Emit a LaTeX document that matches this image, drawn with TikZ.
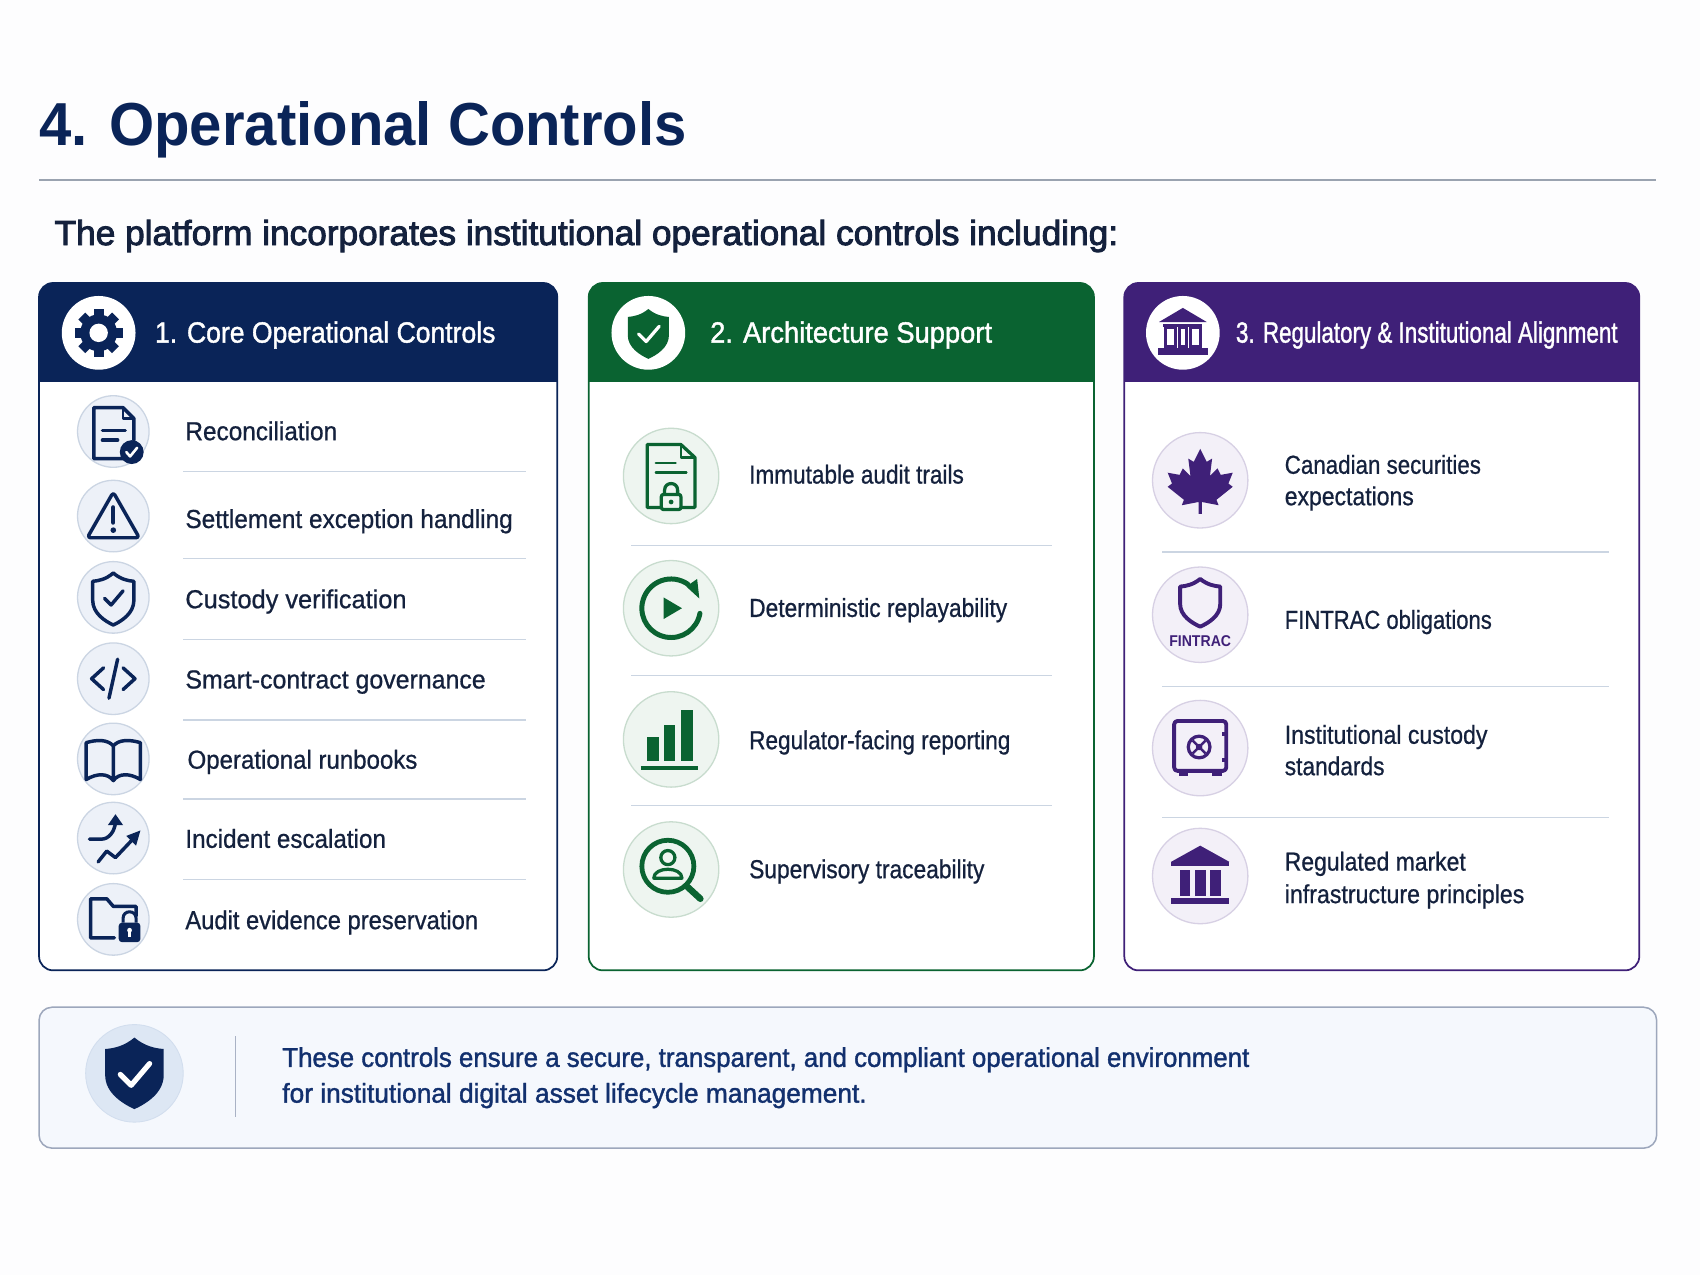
\documentclass[tikz,border=0pt]{standalone}
\usepackage{fontspec}
\usepackage{graphicx}
\setmainfont{Liberation Sans}
\newfontfamily\med[FakeBold=0.8]{Liberation Sans}
\newfontfamily\medb[FakeBold=1.4]{Liberation Sans}
\newfontfamily\semi[FakeBold=2.6]{Liberation Sans}
\usetikzlibrary{arrows.meta}
\definecolor{navy}{HTML}{0A2458}
\definecolor{grn}{HTML}{0A6331}
\definecolor{pur}{HTML}{3F2078}
\definecolor{ink}{HTML}{14213D}
\definecolor{foot}{HTML}{12306E}
\definecolor{sep}{HTML}{CBD5E2}
\definecolor{pagebg}{HTML}{FDFDFE}
\definecolor{footbg}{HTML}{F5F8FD}
\definecolor{rulec}{HTML}{9AA3B0}
\newcommand{\TW}[2]{\resizebox{\dimexpr#1pt/2\relax}{\height}{#2}}
\def\shieldshape{(0,-1) .. controls (-0.35,-0.76) and (-0.7,-0.7) .. (-1,-0.68) -- (-1,0.05) .. controls (-1,0.55) and (-0.4,0.85) .. (0,1) .. controls (0.4,0.85) and (1,0.55) .. (1,0.05) -- (1,-0.68) .. controls (0.7,-0.7) and (0.35,-0.76) .. (0,-1) -- cycle}
\tikzset{
  x=0.5pt,y=-0.5pt,
  itm/.style={anchor=base west,inner sep=0pt,outer sep=0pt,text=ink,font=\med\fontsize{12}{14}\selectfont},
  hdr/.style={anchor=base west,inner sep=0pt,outer sep=0pt,text=white,font=\medb\fontsize{13.5}{16}\selectfont},
  sepl/.style={draw=sep,line width=0.7pt},
  hc/.style={circle,fill=white,minimum size=34pt,inner sep=0pt,outer sep=0pt},
  ica/.style={circle,fill={rgb,255:red,237;green,241;blue,248},draw={rgb,255:red,203;green,213;blue,227},line width=0.6pt,minimum size=33pt,inner sep=0pt},
  icb/.style={circle,fill={rgb,255:red,238;green,245;blue,240},draw={rgb,255:red,200;green,220;blue,206},line width=0.6pt,minimum size=44pt,inner sep=0pt},
  icc/.style={circle,fill={rgb,255:red,243;green,240;blue,248},draw={rgb,255:red,215;green,208;blue,228},line width=0.6pt,minimum size=44pt,inner sep=0pt},
  la/.style={draw=navy,line width=1.6pt,line join=round,line cap=round},
  lb/.style={draw=grn,line width=1.8pt,line join=round,line cap=round},
  lc/.style={draw=pur,line width=1.8pt,line join=round,line cap=round},
}
\begin{document}
\begin{tikzpicture}
\path[use as bounding box,fill=pagebg] (0,0) rectangle (1568,1176);
% title
\node[anchor=base west,inner sep=0pt,text=navy,font=\bfseries\fontsize{28}{32}\selectfont] (title) at (36,134) {\TW{597}{4. Operational Controls}};
\draw[draw=rulec,line width=0.7pt] (36,166) -- (1527,166);
\node[anchor=base west,inner sep=0pt,text=ink,font=\semi\fontsize{16}{19}\selectfont] (sub) at (50,226) {\TW{981}{The platform incorporates institutional operational controls including:}};
% cards
\foreach \xa/\xb/\cc in {36/514/navy,543/1009/grn,1037/1512/pur}{
  \fill[white,rounded corners=6.5pt] (\xa,261) rectangle (\xb,895);
  \begin{scope}
    \clip[rounded corners=6.5pt] (\xa,261) rectangle (\xb,895);
    \fill[\cc] (\xa,261) rectangle (\xb,352);
  \end{scope}
  \draw[\cc,line width=0.8pt,rounded corners=6.5pt] (\xa,261) rectangle (\xb,895);
}
% headers
\node[hc] (h1) at (91,307) {};
\node[hc] (h2) at (598,307) {};
\node[hc] (h3) at (1091,307) {};
\node[hdr] (ht1) at (143,316) {\TW{314}{1. Core Operational Controls}};
\node[hdr] (ht2) at (655,316) {\TW{260}{2. Architecture Support}};
\node[hdr] (ht3) at (1140,316) {\TW{352}{3. Regulatory \& Institutional Alignment}};
% header icon gear
\begin{scope}[shift={(91,307)}]
  \foreach \a in {0,45,...,315}{
    \fill[navy,rotate=\a] (-4.5,-22) rectangle (4.5,-12);
  }
  \fill[navy] (0,0) circle[radius=17];
  \fill[white] (0,0) circle[radius=8.5];
\end{scope}
% header icon shield
\begin{scope}[shift={(598,307)}]
  \fill[grn,shift={(0,1)},xscale=19,yscale=23] \shieldshape;
  \draw[white,line width=1.5pt,line cap=round,line join=round] (-9,1) -- (-2,8) -- (10,-6);
\end{scope}
% header icon bank
\begin{scope}[shift={(1091,307)}]
  \fill[pur] (0,-23) -- (-22,-10) -- (22,-10) -- cycle;
  \fill[pur] (-18,-8) rectangle (18,-5);
  \draw[pur,line width=1.4pt] (-16,-5) rectangle (-7,13);
  \draw[pur,line width=1.4pt] (-3.5,-5) rectangle (3.5,13);
  \draw[pur,line width=1.4pt] (7,-5) rectangle (16,13);
  \fill[pur] (-23,14) rectangle (23,20);
\end{scope}
% card 1 rows
\foreach \yy in {435,515,590,664,737,811}{ \draw[sepl] (169,\yy) -- (485,\yy); }
\node[ica] (a1) at (104.5,398) {};
\node[ica] (a2) at (104.5,476) {};
\node[ica] (a3) at (104.5,551) {};
\node[ica] (a4) at (104.5,626) {};
\node[ica] (a5) at (104.5,700) {};
\node[ica] (a6) at (104.5,773) {};
\node[ica] (a7) at (104.5,848) {};
\node[itm] (ta1) at (171,406) {\TW{140}{Reconciliation}};
\node[itm] (ta2) at (171,487) {\TW{302}{Settlement exception handling}};
\node[itm] (ta3) at (171,561) {\TW{204}{Custody verification}};
\node[itm] (ta4) at (171,635) {\TW{277}{Smart-contract governance}};
\node[itm] (ta5) at (173,709) {\TW{212}{Operational runbooks}};
\node[itm] (ta6) at (171,782) {\TW{185}{Incident escalation}};
\node[itm] (ta7) at (171,857) {\TW{270}{Audit evidence preservation}};
% doc check
\begin{scope}[shift={(104.5,398)}]
  \draw[la] (9,25) -- (-18,25) -- (-18,-22) -- (9,-22) -- (19,-12) -- (19,8);
  \draw[la,line width=1.1pt] (9,-22) -- (9,-12) -- (19,-12);
  \draw[la] (-10,-1) -- (11,-1) (-10,8) -- (4,8);
  \fill[navy] (17,19) circle[radius=11];
  \draw[white,line width=1.2pt,line cap=round,line join=round] (12,19) -- (15.5,23) -- (22,15);
\end{scope}
% warning
\begin{scope}[shift={(104.5,476)}]
  \draw[la,rounded corners=1.5pt] (0,-22) -- (24,20) -- (-24,20) -- cycle;
  \draw[la,line width=2pt] (0,-8) -- (0,6);
  \fill[navy] (0,13) circle[radius=2.6];
\end{scope}
% shield check
\begin{scope}[shift={(104.5,551)}]
  \draw[la,shift={(0,1.5)},xscale=19,yscale=24] \shieldshape;
  \draw[la] (-8,1) -- (-2,7) -- (9,-6);
\end{scope}
% code
\begin{scope}[shift={(104.5,626)}]
  \draw[la] (-9,-10) -- (-20,0) -- (-9,10);
  \draw[la] (9,-10) -- (20,0) -- (9,10);
  \draw[la] (4,-18) -- (-4,18);
\end{scope}
% book
\begin{scope}[shift={(104.5,700)}]
  \draw[la] (0,-12) .. controls (-5,-18) and (-15,-18) .. (-25,-15) -- (-25,19) .. controls (-15,13) and (-5,13) .. (0,20) .. controls (5,13) and (15,13) .. (25,19) -- (25,-15) .. controls (15,-18) and (5,-18) .. (0,-12) -- (0,20);
\end{scope}
% incident
\begin{scope}[shift={(104.5,773)}]
  \draw[la] (-22,1) -- (-11,1) .. controls (-4,1) and (1,-6) .. (2,-14);
  \fill[navy] (2,-22) -- (9,-12) -- (-5,-12) -- cycle;
  \draw[la] (-14,22) -- (-6,12) -- (2,18) -- (19,0);
  \fill[navy] (25,-7) -- (21,7) -- (12,-2) -- cycle;
\end{scope}
% folder lock
\begin{scope}[shift={(104.5,848)}]
  \draw[la] (1,17) -- (-21,17) -- (-21,-19) -- (-6,-19) -- (0,-12) -- (21,-12) -- (21,-3);
  \fill[navy,rounded corners=1.5pt] (5,3) rectangle (25,21);
  \draw[navy,line width=1.4pt] (9,3) -- (9,-1) .. controls (9,-9) and (21,-9) .. (21,-1) -- (21,3);
  \fill[white] (15,10) circle[radius=2.2];
  \fill[white] (14,10) rectangle (16,16);
\end{scope}
% card 2 rows
\foreach \yy in {503,623,743}{ \draw[sepl] (582,\yy) -- (970,\yy); }
\node[icb] (b1) at (619,439) {};
\node[icb] (b2) at (619,561) {};
\node[icb] (b3) at (619,682) {};
\node[icb] (b4) at (619,802) {};
\node[itm] (tb1) at (691,446) {\TW{198}{Immutable audit trails}};
\node[itm] (tb2) at (691,569) {\TW{238}{Deterministic replayability}};
\node[itm] (tb3) at (691,691) {\TW{241}{Regulator-facing reporting}};
\node[itm] (tb4) at (691,810) {\TW{217}{Supervisory traceability}};
% doc lock
\begin{scope}[shift={(619,439)}]
  \draw[lb,line width=1.5pt] (-9,29) -- (-22,29) -- (-22,-29) -- (9,-29) -- (22,-17) -- (22,29) -- (9,29);
  \draw[lb,line width=1.1pt] (9,-29) -- (9,-17) -- (22,-17);
  \draw[lb,line width=1.3pt] (-14,-12) -- (4,-12) (-14,-3) -- (14,-3);
  \draw[lb,line width=1.5pt,rounded corners=1pt] (-9,17) rectangle (9,31);
  \draw[lb,line width=1.5pt] (-6,17) -- (-6,13) .. controls (-6,5) and (6,5) .. (6,13) -- (6,17);
  \fill[grn] (0,24) circle[radius=2.2];
\end{scope}
% replay
\begin{scope}[shift={(619,561)}]
  \draw[lb,line width=2.3pt] (26.6,4.7) arc[start angle=10,end angle=305,radius=27];
  \fill[grn] (26,-9) -- (14,-20) -- (24,-27) -- cycle;
  \fill[grn] (-7,-10) -- (10,0) -- (-7,10) -- cycle;
\end{scope}
% bars
\begin{scope}[shift={(619,682)}]
  \fill[grn] (-22,-2) rectangle (-11,20);
  \fill[grn] (-7,-13) rectangle (4,20);
  \fill[grn] (9,-27) rectangle (20,20);
  \draw[lb,line cap=butt] (-28,26) -- (25,26);
\end{scope}
% magnifier
\begin{scope}[shift={(619,802)}]
  \draw[lb,line width=2.2pt] (-3,-3) circle[radius=24];
  \draw[lb,line width=3pt] (14,15) -- (27,27);
  \draw[lb,line width=1.5pt] (-3,-11) circle[radius=6.5];
  \draw[lb,line width=1.5pt] (-16,8) .. controls (-16,-3) and (10,-3) .. (10,8) -- cycle;
\end{scope}
% card 3 rows
\foreach \yy in {509,633,754}{ \draw[sepl] (1072,\yy) -- (1484,\yy); }
\node[icc] (c1) at (1107,443) {};
\node[icc] (c2) at (1107,567) {};
\node[icc] (c3) at (1107,690) {};
\node[icc] (c4) at (1107,808) {};
\node[itm] (tc1) at (1185,437) {\TW{181}{Canadian securities}};
\node[itm] (tc1b) at (1185,466) {\TW{119}{expectations}};
\node[itm] (tc2) at (1185,580) {\TW{191}{FINTRAC obligations}};
\node[itm] (tc3) at (1185,686) {\TW{187}{Institutional custody}};
\node[itm] (tc3b) at (1185,715) {\TW{92}{standards}};
\node[itm] (tc4) at (1185,803) {\TW{167}{Regulated market}};
\node[itm] (tc4b) at (1185,833) {\TW{221}{infrastructure principles}};
% maple
\begin{scope}[shift={(1107,443)}]
  \fill[pur] (0,-29) -- (6,-17) -- (11,-20) -- (9,-4) -- (16,-11) -- (19,-5) -- (30,-7) -- (26,3) -- (30,6) -- (15,18) -- (17,23) -- (1.5,20) -- (1.5,31) -- (-1.5,31) -- (-1.5,20) -- (-17,23) -- (-15,18) -- (-30,6) -- (-26,3) -- (-30,-7) -- (-19,-5) -- (-16,-11) -- (-9,-4) -- (-11,-20) -- (-6,-17) -- cycle;
\end{scope}
% fintrac
\begin{scope}[shift={(1107,567)}]
  \draw[lc,shift={(0,-11)},xscale=18.5,yscale=22] \shieldshape;
  \node[inner sep=0pt,text=pur,font=\bfseries\fontsize{7.2}{8}\selectfont] (fin) at (0,24) {\TW{57}{FINTRAC}};
\end{scope}
% safe
\begin{scope}[shift={(1107,690)}]
  \draw[lc,rounded corners=1.5pt] (-24,-25) rectangle (24,21);
  \fill[pur] (-20,21) rectangle (-11,26);
  \fill[pur] (11,21) rectangle (20,26);
  \draw[lc,line width=1.5pt] (-1,-1) circle[radius=10];
  \fill[pur] (-1,-1) circle[radius=3];
  \draw[pur,line width=1.2pt] (-7,-7) -- (5,5) (-7,5) -- (5,-7);
  \fill[pur] (20,-15) rectangle (26,-11);
  \fill[pur] (20,9) rectangle (26,13);
\end{scope}
% bank
\begin{scope}[shift={(1107,808)}]
  \fill[pur] (0,-28) -- (-27,-13) -- (27,-13) -- cycle;
  \fill[pur] (-27,-13) rectangle (27,-9);
  \fill[pur] (-19,-6) rectangle (-9,18);
  \fill[pur] (-5,-6) rectangle (5,18);
  \fill[pur] (9,-6) rectangle (19,18);
  \fill[pur] (-27,20) rectangle (27,26);
\end{scope}
% footer
\draw[draw=navy!40!white,fill=footbg,line width=0.7pt,rounded corners=6pt] (36,929) rectangle (1528,1059);
\node[circle,fill={rgb,255:red,221;green,231;blue,244},draw={rgb,255:red,210;green,222;blue,238},minimum size=45pt,inner sep=0pt] (fc) at (124,990) {};
\begin{scope}[shift={(124,990)}]
  \fill[navy,xscale=27,yscale=33] \shieldshape;
  \draw[white,line width=2.4pt,line join=round,line cap=round] (-13,1) -- (-3,11) -- (14,-9);
\end{scope}
\draw[draw=navy!35!white,line width=0.7pt] (217,956) -- (217,1030);
\node[anchor=base west,inner sep=0pt,text=foot,font=\medb\fontsize{12.5}{15}\selectfont] (f1) at (260,984) {\TW{892}{These controls ensure a secure, transparent, and compliant operational environment}};
\node[anchor=base west,inner sep=0pt,text=foot,font=\medb\fontsize{12.5}{15}\selectfont] (f2) at (260,1017) {\TW{539}{for institutional digital asset lifecycle management.}};
\end{tikzpicture}
\end{document}
